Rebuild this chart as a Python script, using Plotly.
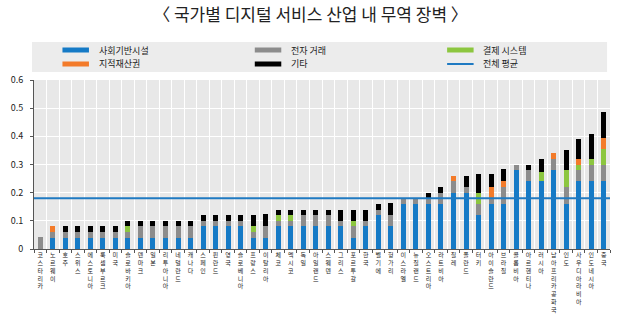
import plotly.graph_objects as go

# Countries, ordered by overall restrictiveness
countries = [
    "코스타리카", "노르웨이", "호주", "스위스", "에스토니아", "룩셈부르크", "미국", "슬로바키아",
    "덴마크", "일본", "리투아니아", "네덜란드", "캐나다", "스페인", "핀란드", "영국",
    "슬로베니아", "프랑스", "이탈리아", "체코", "멕시코", "독일", "아일랜드", "스웨덴",
    "그리스", "포르투갈", "한국", "벨기에", "헝가리", "이스라엘", "뉴질랜드", "오스트리아",
    "라트비아", "칠레", "폴란드", "터키", "아이슬란드", "브라질", "콜롬비아", "아르헨티나",
    "러시아", "남아프리카공화국", "인도", "사우디아라비아", "인도네시아", "중국",
]

# Index components per country
infrastructure = [
    0.00, 0.04, 0.04, 0.04, 0.04, 0.04, 0.04, 0.04,
    0.04, 0.04, 0.04, 0.04, 0.04, 0.08, 0.08, 0.08,
    0.08, 0.04, 0.04, 0.08, 0.08, 0.08, 0.08, 0.08,
    0.08, 0.04, 0.08, 0.12, 0.08, 0.16, 0.16, 0.16,
    0.16, 0.20, 0.20, 0.12, 0.16, 0.16, 0.28, 0.24,
    0.24, 0.28, 0.16, 0.24, 0.24, 0.24,
]
e_commerce = [
    0.044, 0.02, 0.02, 0.02, 0.02, 0.02, 0.02, 0.02,
    0.04, 0.04, 0.04, 0.04, 0.04, 0.02, 0.02, 0.02,
    0.02, 0.02, 0.04, 0.02, 0.02, 0.04, 0.04, 0.04,
    0.02, 0.04, 0.02, 0.02, 0.04, 0.02, 0.02, 0.02,
    0.04, 0.04, 0.02, 0.04, 0.02, 0.06, 0.02, 0.04,
    0.00, 0.04, 0.06, 0.04, 0.06, 0.06,
]
payment = [
    0.00, 0.00, 0.00, 0.00, 0.00, 0.00, 0.00, 0.02,
    0.00, 0.00, 0.00, 0.00, 0.00, 0.00, 0.00, 0.00,
    0.00, 0.02, 0.00, 0.02, 0.02, 0.00, 0.00, 0.00,
    0.00, 0.02, 0.00, 0.00, 0.00, 0.00, 0.00, 0.00,
    0.00, 0.00, 0.00, 0.04, 0.00, 0.00, 0.00, 0.00,
    0.035, 0.00, 0.06, 0.02, 0.02, 0.055,
]
ip_rights = [
    0.00, 0.02, 0.00, 0.00, 0.00, 0.00, 0.00, 0.00,
    0.00, 0.00, 0.00, 0.00, 0.00, 0.00, 0.00, 0.00,
    0.00, 0.00, 0.00, 0.00, 0.00, 0.00, 0.00, 0.00,
    0.00, 0.00, 0.00, 0.00, 0.00, 0.00, 0.00, 0.00,
    0.00, 0.02, 0.00, 0.00, 0.04, 0.02, 0.00, 0.00,
    0.00, 0.02, 0.00, 0.02, 0.00, 0.04,
]
other = [
    0.00, 0.00, 0.02, 0.02, 0.02, 0.02, 0.02, 0.02,
    0.02, 0.02, 0.02, 0.02, 0.02, 0.02, 0.02, 0.02,
    0.02, 0.04, 0.045, 0.02, 0.02, 0.02, 0.02, 0.02,
    0.04, 0.04, 0.04, 0.02, 0.045, 0.00, 0.00, 0.02,
    0.02, 0.00, 0.04, 0.065, 0.045, 0.045, 0.00, 0.02,
    0.045, 0.00, 0.07, 0.07, 0.09, 0.09,
]
overall_average = 0.18

series_names = ["사회기반시설", "전자 거래", "결제 시스템", "지적재산권", "기타"]
series_values = [infrastructure, e_commerce, payment, ip_rights, other]
series_colors = ["#157ac6", "#8c8c8c", "#8cc63f", "#f37b2a", "#000000"]
average_name = "전체 평균"
average_color = "#1f7ac2"

y_tick_values = [0, 0.1, 0.2, 0.3, 0.4, 0.5, 0.6]
y_tick_labels = ["0", "0.1", "0.2", "0.3", "0.4", "0.5", "0.6"]

title_text = "〈 국가별 디지털 서비스 산업 내 무역 장벽 〉"

W, H = 621, 326
M_L, M_R, M_T, M_B = 23, 11, 80, 77
PW, PH = W - M_L - M_R, H - M_T - M_B
FONT = "Noto Sans CJK KR, Noto Sans, sans-serif"


def px_x(px):
    return (px - M_L) / PW


def px_y(py):
    return (H - M_B - py) / PH


fig = go.Figure()
for name, vals, color in zip(series_names, series_values, series_colors):
    fig.add_trace(go.Bar(x=countries, y=vals, name=name, marker_color=color,
                         marker_line_width=0, showlegend=False))

shapes = [
    # overall average line across the plot
    dict(type="line", xref="paper", yref="y", x0=0, x1=1,
         y0=overall_average, y1=overall_average,
         line=dict(color=average_color, width=2)),
    # legend panel
    dict(type="rect", xref="paper", yref="paper",
         x0=px_x(21), x1=px_x(607), y0=px_y(72), y1=px_y(42),
         fillcolor="#ececec", line=dict(width=0), layer="below"),
]
annotations = []

legend_items = series_names + [average_name]
legend_colors = series_colors + [average_color]
col_x = [52, 248, 444]
row_y = [50, 64]
for i, (label, color) in enumerate(zip(legend_items, legend_colors)):
    cx = col_x[i % 3]
    cy = row_y[i // 3]
    is_line = label == average_name
    shapes.append(dict(type="line", xref="paper", yref="paper",
                       x0=px_x(cx), x1=px_x(cx + 27), y0=px_y(cy), y1=px_y(cy),
                       line=dict(color=color, width=2 if is_line else 5)))
    annotations.append(dict(text=label, xref="paper", yref="paper",
                            x=px_x(cx + 35), y=px_y(cy), xanchor="left", yanchor="middle",
                            showarrow=False, font=dict(size=9, color="#222", family=FONT)))

fig.update_layout(
    width=W, height=H,
    margin=dict(l=M_L, r=M_R, t=M_T, b=M_B),
    barmode="stack", bargap=0.6,
    plot_bgcolor="#e8e8e8", paper_bgcolor="white",
    showlegend=False,
    font=dict(family=FONT, color="#222"),
    title=dict(text=title_text, x=0.5, xref="container", xanchor="center",
               y=1 - 15 / H, yanchor="middle", yref="container",
               font=dict(size=17, color="#222", family=FONT)),
    shapes=shapes, annotations=annotations,
)
fig.update_xaxes(
    type="category", tickson="boundaries",
    tickvals=countries, ticktext=["<br>".join(c) for c in countries],
    tickangle=0, tickfont=dict(size=6, color="#222", family=FONT),
    showgrid=True, gridcolor="white", gridwidth=1,
    ticks="outside", ticklen=3, tickcolor="#555",
    showline=True, linecolor="#555", linewidth=1,
)
fig.update_yaxes(
    range=[0, 0.6], tickvals=y_tick_values, ticktext=y_tick_labels,
    tickfont=dict(size=9, color="#222", family=FONT),
    ticklabelstandoff=5,
    showgrid=True, gridcolor="white", gridwidth=1, zeroline=False,
    ticks="outside", ticklen=3, tickcolor="#555",
    showline=True, linecolor="#555", linewidth=1,
)

fig.write_html("out.html")
